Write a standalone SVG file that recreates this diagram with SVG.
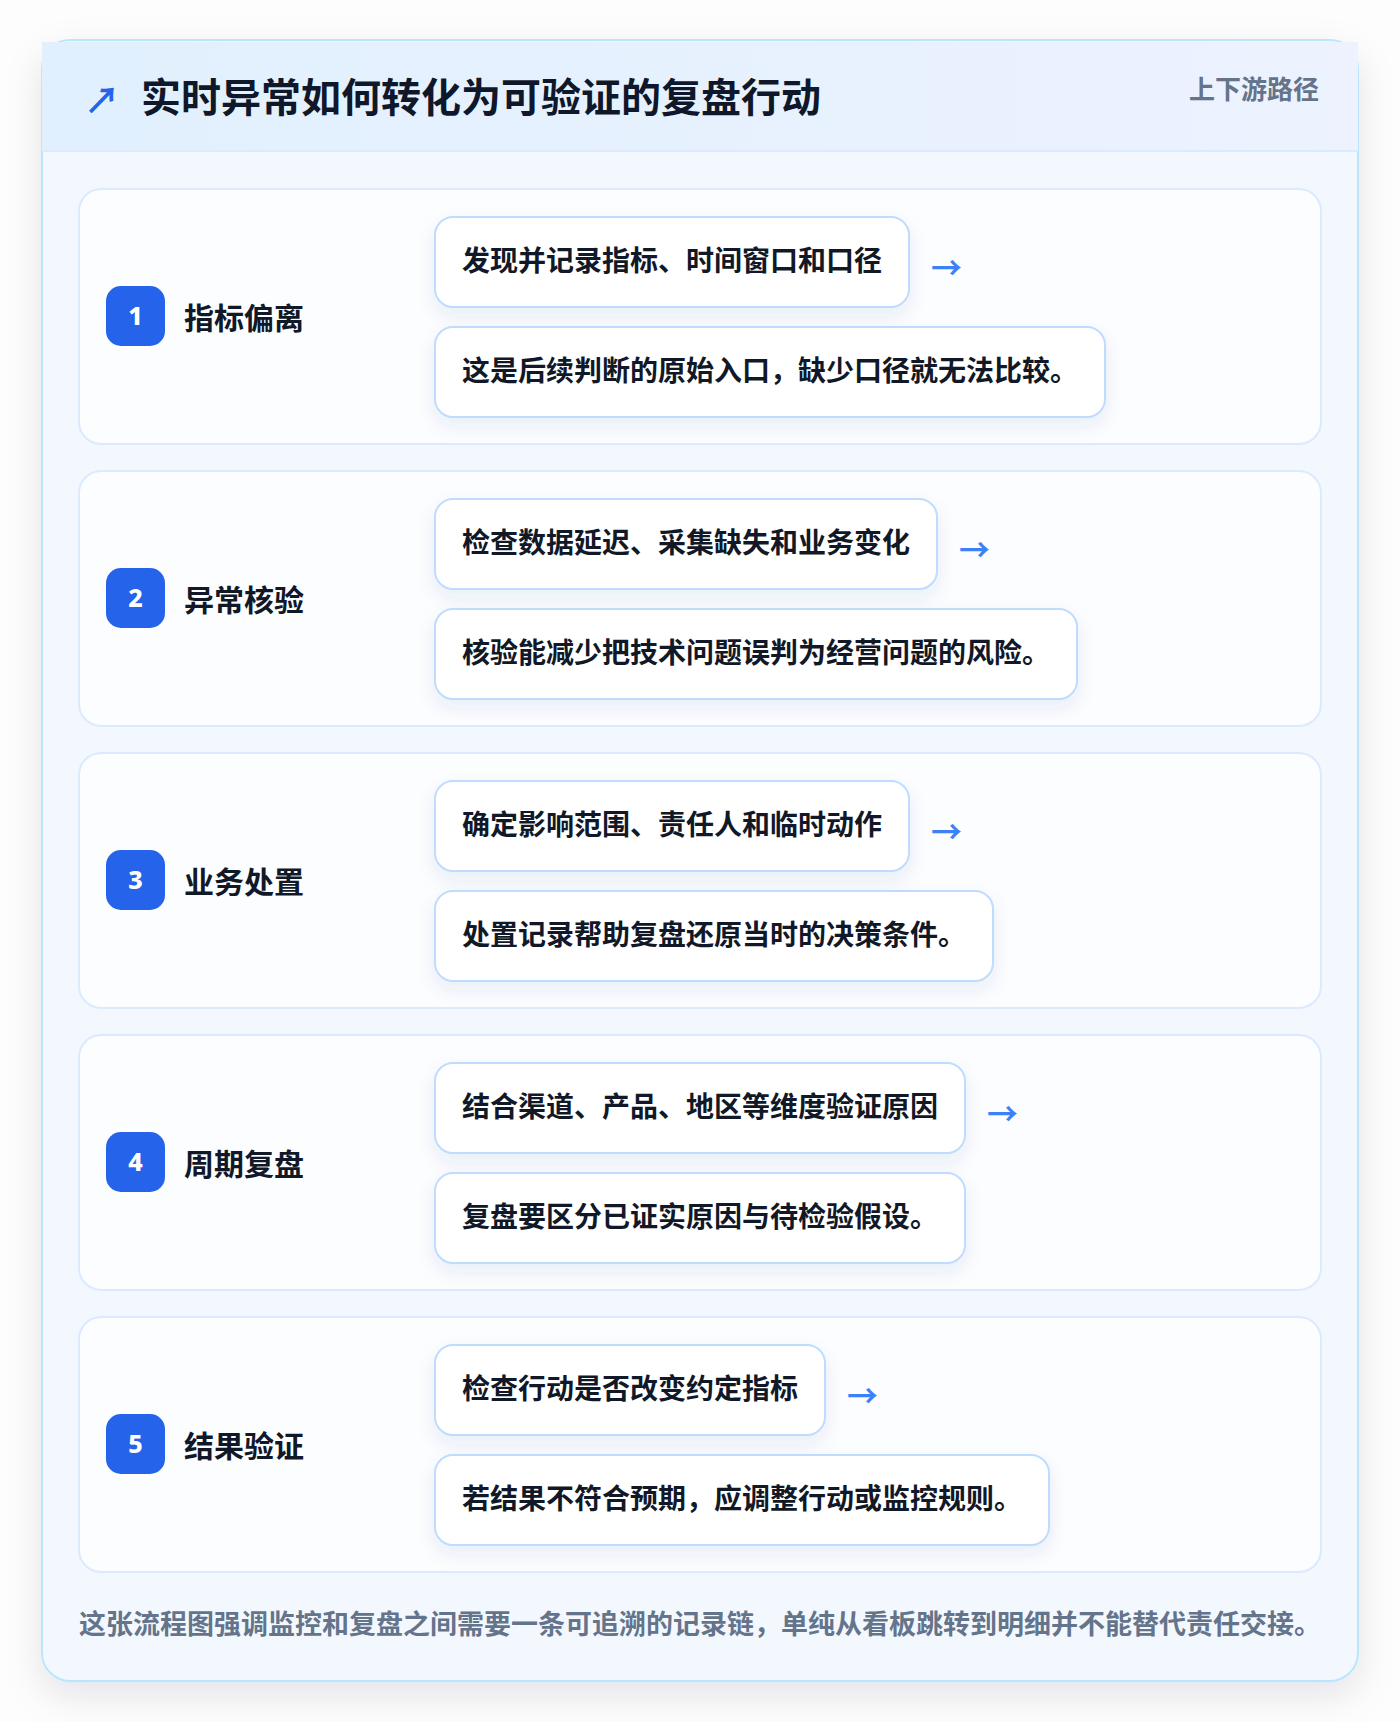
<svg xmlns="http://www.w3.org/2000/svg" width="1400" height="1722" viewBox="0 0 1400 1722">
<defs>
<linearGradient id="hdr" x1="0" y1="0" x2="1" y2="0">
<stop offset="0" stop-color="#e1f0fe"/>
<stop offset="1" stop-color="#edf2fe"/>
</linearGradient>
<filter id="outerShadow" x="-10%" y="-10%" width="120%" height="120%">
<feDropShadow dx="0" dy="14" stdDeviation="18" flood-color="#0f172a" flood-opacity="0.10"/>
</filter>
<filter id="boxShadow" x="-10%" y="-20%" width="120%" height="160%">
<feDropShadow dx="0" dy="8" stdDeviation="9" flood-color="#1e3a8a" flood-opacity="0.08"/>
</filter>
<style>
.card{fill:#fbfdff;stroke:#dbeafe;stroke-width:2}
.box{fill:#ffffff;stroke:#bfdbfe;stroke-width:2;filter:url(#boxShadow)}
.badge{fill:#2563eb}
.num{font-family:"Noto Sans","Liberation Sans",sans-serif;font-weight:800;font-size:25px;fill:#ffffff;text-anchor:middle}
.lbl{font-family:"Noto Sans CJK SC","Noto Sans",sans-serif;font-weight:700;font-size:30px;fill:#111827}
.bt{font-family:"Noto Sans CJK SC","Noto Sans",sans-serif;font-weight:700;font-size:28px;fill:#111827}
.arr{font-family:"Noto Sans CJK SC","DejaVu Sans",sans-serif;font-weight:700;font-size:31px;fill:#3b82f6}
</style>
</defs>
<rect x="0" y="0" width="1400" height="1722" fill="#fdfdfe"/>
<g id="frame">
<rect x="42" y="40" width="1316" height="1641" rx="28" fill="#f3f8fe" stroke="#bae6fd" stroke-width="2" filter="url(#outerShadow)"/>
<rect x="42" y="42" width="1316" height="109" fill="url(#hdr)"/>
<line x1="42" y1="151" x2="1358" y2="151" stroke="#dbeafe" stroke-width="2"/>
<text x="84" y="114" font-family="Noto Sans CJK SC, DejaVu Sans, sans-serif" font-size="36" font-weight="700" fill="#2563eb">↗</text>
<text x="141" y="112" font-family="Noto Sans CJK SC, Noto Sans, sans-serif" font-size="40" font-weight="700" fill="#0f172a">实时异常如何转化为可验证的复盘行动</text>
<text x="1319" y="99" text-anchor="end" font-family="Noto Sans CJK SC, Noto Sans, sans-serif" font-size="26" font-weight="700" fill="#64748b">上下游路径</text>
</g>
<g id="step1">
<rect class="card" x="79" y="189" width="1242" height="255" rx="22"/>
<rect class="badge" x="106" y="286" width="59" height="60" rx="15"/>
<text class="num" x="135.5" y="325">1</text>
<text class="lbl" x="184" y="329">指标偏离</text>
<rect class="box" x="435" y="217" width="474" height="90" rx="18"/>
<text class="bt" x="462" y="271">发现并记录指标、时间窗口和口径</text>
<rect class="box" x="435" y="327" width="670" height="90" rx="18"/>
<text class="bt" x="462" y="381">这是后续判断的原始入口，缺少口径就无法比较。</text>
</g>
<g id="step2">
<rect class="card" x="79" y="471" width="1242" height="255" rx="22"/>
<rect class="badge" x="106" y="568" width="59" height="60" rx="15"/>
<text class="num" x="135.5" y="607">2</text>
<text class="lbl" x="184" y="611">异常核验</text>
<rect class="box" x="435" y="499" width="502" height="90" rx="18"/>
<text class="bt" x="462" y="553">检查数据延迟、采集缺失和业务变化</text>
<rect class="box" x="435" y="609" width="642" height="90" rx="18"/>
<text class="bt" x="462" y="663">核验能减少把技术问题误判为经营问题的风险。</text>
</g>
<g id="step3">
<rect class="card" x="79" y="753" width="1242" height="255" rx="22"/>
<rect class="badge" x="106" y="850" width="59" height="60" rx="15"/>
<text class="num" x="135.5" y="889">3</text>
<text class="lbl" x="184" y="893">业务处置</text>
<rect class="box" x="435" y="781" width="474" height="90" rx="18"/>
<text class="bt" x="462" y="835">确定影响范围、责任人和临时动作</text>
<rect class="box" x="435" y="891" width="558" height="90" rx="18"/>
<text class="bt" x="462" y="945">处置记录帮助复盘还原当时的决策条件。</text>
</g>
<g id="step4">
<rect class="card" x="79" y="1035" width="1242" height="255" rx="22"/>
<rect class="badge" x="106" y="1132" width="59" height="60" rx="15"/>
<text class="num" x="135.5" y="1171">4</text>
<text class="lbl" x="184" y="1175">周期复盘</text>
<rect class="box" x="435" y="1063" width="530" height="90" rx="18"/>
<text class="bt" x="462" y="1117">结合渠道、产品、地区等维度验证原因</text>
<rect class="box" x="435" y="1173" width="530" height="90" rx="18"/>
<text class="bt" x="462" y="1227">复盘要区分已证实原因与待检验假设。</text>
</g>
<g id="step5">
<rect class="card" x="79" y="1317" width="1242" height="255" rx="22"/>
<rect class="badge" x="106" y="1414" width="59" height="60" rx="15"/>
<text class="num" x="135.5" y="1453">5</text>
<text class="lbl" x="184" y="1457">结果验证</text>
<rect class="box" x="435" y="1345" width="390" height="90" rx="18"/>
<text class="bt" x="462" y="1399">检查行动是否改变约定指标</text>
<rect class="box" x="435" y="1455" width="614" height="90" rx="18"/>
<text class="bt" x="462" y="1509">若结果不符合预期，应调整行动或监控规则。</text>
</g>
<g id="connectors">
<text class="arr" x="931" y="279">→</text>
<text class="arr" x="959" y="561">→</text>
<text class="arr" x="931" y="843">→</text>
<text class="arr" x="987" y="1125">→</text>
<text class="arr" x="847" y="1407">→</text>
</g>
<g id="note">
<text x="79" y="1634" font-family="Noto Sans CJK SC, Noto Sans, sans-serif" font-size="27" font-weight="700" fill="#64748b">这张流程图强调监控和复盘之间需要一条可追溯的记录链，单纯从看板跳转到明细并不能替代责任交接。</text>
</g>
</svg>
